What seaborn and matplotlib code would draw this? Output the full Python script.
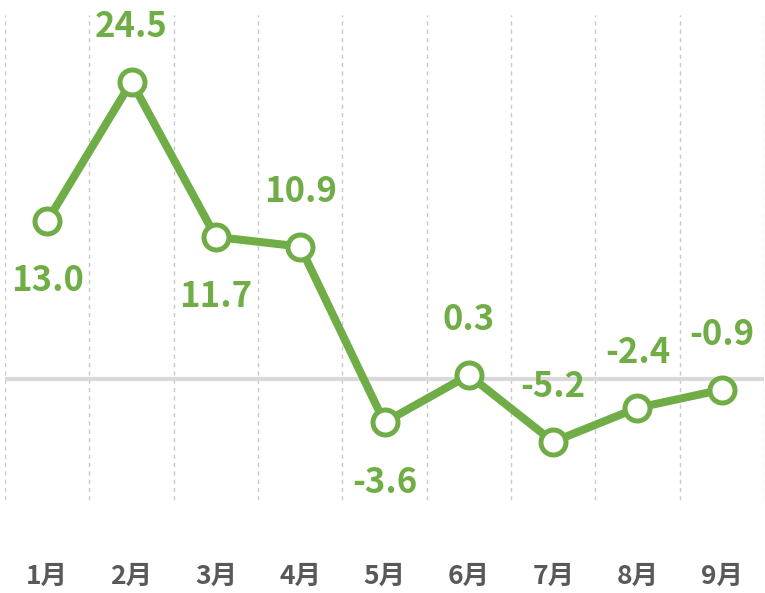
import numpy as np
import pandas as pd
import matplotlib.pyplot as plt
import seaborn as sns

sns.set_style('white')
plt.rcParams['font.family'] = ['Noto Sans CJK SC', 'DejaVu Sans']
plt.rcParams['axes.unicode_minus'] = False

# 数据
months = ['1月', '2月', '3月', '4月', '5月', '6月', '7月', '8月', '9月']
values = [13.0, 24.5, 11.7, 10.9, -3.6, 0.3, -5.2, -2.4, -0.9]
labels = ['13.0', '24.5', '11.7', '10.9', '-3.6', '0.3', '-5.2', '-2.4', '-0.9']
label_side = ['below', 'above', 'below', 'above', 'below', 'above', 'above', 'above', 'above']

df = pd.DataFrame({'月份': months, '增速': values})
green = '#70AD47'

fig = plt.figure(figsize=(7.65, 5.93), dpi=100)
ax = fig.add_axes([5 / 765, 93 / 593, 759 / 765, 485 / 593])

# 零线
ax.axhline(0, color='#D9D9D9', lw=3, zorder=1)

sns.lineplot(data=df, x='月份', y='增速', ax=ax, color=green, lw=5.8,
             marker='o', markersize=18, markerfacecolor='white',
             markeredgecolor=green, markeredgewidth=3.6, zorder=3)

# 数据标签
for i, (v, t, s) in enumerate(zip(values, labels, label_side)):
    dy = 40 if s == 'above' else -43
    ax.annotate(t, (i, v), xytext=(0, dy), textcoords='offset points',
                ha='center', va='center', fontsize=25, fontweight='bold',
                color=green)

ax.set_xlim(-0.5, len(months) - 0.5)
ax.set_ylim(-10, 30)
ax.set_xticks(range(len(months)))
ax.set_xticklabels(months, fontsize=19, fontweight='bold', color='#595959')
ax.set_xticks(np.arange(-0.5, len(months)), minor=True)
ax.tick_params(axis='x', which='both', length=0, pad=45)
ax.set_yticks([])
ax.grid(which='minor', axis='x', color='#C8C8C8', linestyle=(0, (3, 3)), lw=1)
ax.set_xlabel('')
ax.set_ylabel('')
for sp in ax.spines.values():
    sp.set_visible(False)

plt.savefig('out.png', dpi=100)
